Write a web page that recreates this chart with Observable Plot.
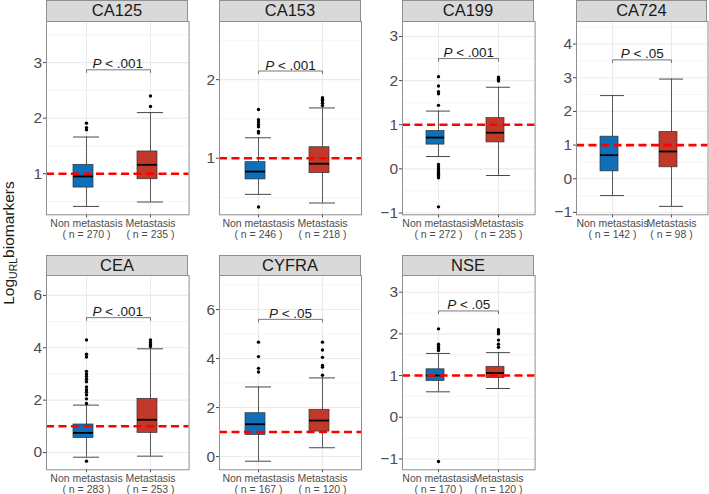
<!DOCTYPE html>
<html><head><meta charset="utf-8">
<script src="https://cdn.jsdelivr.net/npm/d3@7"></script>
<script src="https://cdn.jsdelivr.net/npm/@observablehq/plot@0.6"></script>
<style>
html,body{margin:0;padding:0;background:#fff;}
#chart{position:relative;width:709px;height:494px;overflow:hidden;font-family:"Liberation Sans",Arial,sans-serif;background:#fff;}
.panel{position:absolute;}
.panel svg{overflow:visible;background:transparent;}
.strip{position:absolute;box-sizing:border-box;background:#d9d9d9;border:1px solid #8f8f8f;display:flex;align-items:center;justify-content:center;font-size:16.5px;color:#1a1a1a;}
</style>
</head><body><div id="chart"></div>
<script>
// ---- data ----
const biomarkers = ["CA125","CA153","CA199","CA724","CEA","CYFRA","NSE"];
const groups = ["Non metastasis","Metastasis"];
const nNon = [270,246,272,142,283,167,170];
const nMet = [235,218,235,98,253,120,120];
const pLabels = ["P < .001","P < .001","P < .001","P < .05","P < .001","P < .05","P < .05"];
const bracketY = [2.87,2.11,2.50,3.53,5.15,5.6,2.55];
const refLine = 1;

const yMin = [0.26,0.28,-1.04,-1.07,-0.66,-0.54,-1.26];
const yMax = [3.74,2.74,3.34,4.67,6.76,7.39,3.40];
const yTicks = [[1,2,3],[1,2],[-1,0,1,2,3],[-1,0,1,2,3,4],[0,2,4,6],[0,2,4,6],[-1,0,1,2,3]];
const yMinor = [[0.5,1.5,2.5,3.5],[0.5,1.5,2.5],[-0.5,0.5,1.5,2.5],[-0.5,0.5,1.5,2.5,3.5,4.5],[1,3,5],[1,3,5,7],[-0.5,0.5,1.5,2.5]];

const nonLow = [0.41,0.54,0.28,-0.50,-0.18,-0.19,0.61];
const nonQ1  = [0.75,0.73,0.55,0.22,0.55,0.88,0.87];
const nonMed = [0.95,0.83,0.71,0.70,0.75,1.32,1.00];
const nonQ3  = [1.16,0.95,0.86,1.25,1.07,1.77,1.15];
const nonHigh= [1.66,1.26,1.31,2.47,1.81,2.84,1.53];
const metLow = [0.49,0.43,-0.15,-0.82,-0.14,0.36,0.69];
const metQ1  = [0.90,0.81,0.60,0.34,0.75,1.02,0.94];
const metMed = [1.16,0.93,0.82,0.81,1.25,1.47,1.06];
const metQ3  = [1.40,1.14,1.15,1.39,2.05,1.91,1.21];
const metHigh= [2.10,1.64,1.85,2.96,3.96,3.21,1.55];
const nonOutliers = [
  [1.79,1.83,1.91],
  [0.38,1.32,1.34,1.40,1.43,1.46,1.49,1.62],
  [1.44,1.70,1.75,1.88,2.09,0.10,0.05,0.0,-0.04,-0.08,-0.12,-0.16,-0.20,-0.86],
  [],
  [-0.33,1.87,2.05,2.2,2.3,2.4,2.5,2.7,2.8,2.9,3.0,3.1,3.65,3.75,4.3],
  [3.45,3.6,4.08,4.67],
  [1.6,1.65,1.7,1.75,2.12,-1.06]
];
const metOutliers = [
  [2.21,2.40],
  [1.67,1.70,1.73,1.75,1.77],
  [1.99,2.02,2.05,2.08],
  [],
  [4.05,4.12,4.2,4.3],
  [3.32,3.65,3.72,4.05,4.35,4.67],
  [1.68,1.75,1.85,2.0,2.05,2.1]
];
const groupColors = ["#0f6fb8","#c0392b"];

// ---- layout ----
const colLeft = [45.7,219,401.7,575.7];
const colWidth = [142.6,142,132.6,131.5];
const rowTop = [20.7,275];
const rowBottom = [214,469.3];
const stripTop = [0,255];
const mT = 2, mB = 30, mL = 40, mR = 2;
const font = '"Liberation Sans",Arial,sans-serif';
const fmt = d => (d < 0 ? "\u2212" + Math.abs(d) : String(d));

const root = document.getElementById("chart");

biomarkers.forEach((name, i) => {
  const c = i % 4, r = Math.floor(i / 4);
  const pw = colWidth[c], ph = rowBottom[r] - rowTop[r];
  const rows = [
    {g: groups[0], low: nonLow[i], q1: nonQ1[i], med: nonMed[i], q3: nonQ3[i], high: nonHigh[i]},
    {g: groups[1], low: metLow[i], q1: metQ1[i], med: metMed[i], q3: metQ3[i], high: metHigh[i]}
  ];
  const outs = [
    ...nonOutliers[i].map(v => ({g: groups[0], v})),
    ...metOutliers[i].map(v => ({g: groups[1], v}))
  ];
  const tick = (yMax[i] - yMin[i]) * 0.014;
  const bracket = [
    {g: groups[0], y: bracketY[i] - tick},
    {g: groups[0], y: bracketY[i]},
    {g: groups[1], y: bracketY[i]},
    {g: groups[1], y: bracketY[i] - tick}
  ];
  const counts = [nNon[i], nMet[i]];

  const chart = Plot.plot({
    width: pw + mL + mR,
    height: ph + mT + mB,
    marginTop: mT, marginBottom: mB, marginLeft: mL, marginRight: mR,
    style: {fontFamily: font, fontSize: "15px", background: "transparent", overflow: "visible"},
    x: {domain: groups, paddingInner: 0.6, paddingOuter: 0.4, axis: null},
    y: {domain: [yMin[i], yMax[i]], axis: null},
    color: {domain: groups, range: groupColors},
    marks: [
      Plot.ruleY(yMinor[i], {stroke: "#efefef", strokeWidth: 0.6}),
      Plot.ruleY(yTicks[i], {stroke: "#ebebeb", strokeWidth: 1.1}),
      Plot.ruleX(groups, {stroke: "#ebebeb", strokeWidth: 1.1}),
      // axis ticks and labels
      Plot.ruleY(yTicks[i], {stroke: "#333", strokeWidth: 0.9, insetLeft: -3, insetRight: pw}),
      Plot.text(yTicks[i], {y: d => d, text: fmt, frameAnchor: "left", textAnchor: "end", dx: -4.5, fontSize: 15.5, fill: "#4d4d4d"}),
      Plot.ruleX(groups, {stroke: "#333", strokeWidth: 0.9, insetTop: ph, insetBottom: -3}),
      Plot.text(groups, {x: d => d, text: (d, j) => `${d}\n( n = ${counts[j]} )`, frameAnchor: "bottom", lineAnchor: "top", dy: 4.5, fontSize: 10.5, lineHeight: 1.05, fill: "#4d4d4d"}),
      // boxes
      Plot.ruleX(rows, {x: "g", y1: "low", y2: "high", stroke: "#333", strokeWidth: 0.8}),
      Plot.tickY(rows, {x: "g", y: "low", stroke: "#333", strokeWidth: 0.9}),
      Plot.tickY(rows, {x: "g", y: "high", stroke: "#333", strokeWidth: 0.9}),
      Plot.barY(rows, {x: "g", y1: "q1", y2: "q3", fill: "g", stroke: "#333", strokeWidth: 0.7, insetRight: 6}),
      Plot.tickY(rows, {x: "g", y: "med", stroke: "#000", strokeWidth: 1.8, insetRight: 6}),
      Plot.dot(outs, {x: "g", y: "v", r: 1.7, fill: "#000"}),
      Plot.ruleY([refLine], {stroke: "#ff0000", strokeWidth: 2.6, strokeDasharray: "8,4.5"}),
      Plot.line(bracket, {x: "g", y: "y", stroke: "#555", strokeWidth: 0.8}),
      Plot.text([{y: bracketY[i], t: pLabels[i]}], {y: "y", text: "t", lineAnchor: "bottom", dy: -1.5, fontSize: 13.5, fill: "#1a1a1a"}),
      Plot.frame({stroke: "#8f8f8f"})
    ]
  });

  chart.querySelectorAll("text").forEach(el => {
    const s = el.textContent;
    if (s.startsWith("P <") && el.children.length === 0) {
      el.textContent = "";
      const a = document.createElementNS("http://www.w3.org/2000/svg", "tspan");
      a.setAttribute("font-style", "italic");
      a.textContent = "P";
      const b = document.createElementNS("http://www.w3.org/2000/svg", "tspan");
      b.textContent = s.slice(1);
      el.appendChild(a); el.appendChild(b);
    }
  });

  const div = document.createElement("div");
  div.className = "panel";
  div.style.left = (colLeft[c] - mL) + "px";
  div.style.top = (rowTop[r] - mT) + "px";
  div.style.width = (pw + mL + mR) + "px";
  div.appendChild(chart);
  root.appendChild(div);

  const strip = document.createElement("div");
  strip.className = "strip";
  strip.style.left = colLeft[c] + "px";
  strip.style.top = stripTop[r] + "px";
  strip.style.width = pw + "px";
  strip.style.height = (rowTop[r] - stripTop[r] + 1) + "px";
  strip.textContent = name;
  root.appendChild(strip);
});

// y-axis title
const ttl = d3.select(root).append("svg")
  .attr("width", 30).attr("height", 494)
  .style("position", "absolute").style("left", "0px").style("top", "0px");
const t = ttl.append("text")
  .attr("transform", "translate(14,243) rotate(-90)")
  .attr("text-anchor", "middle")
  .attr("font-family", font).attr("font-size", 15.5).attr("fill", "#1a1a1a");
t.append("tspan").text("Log");
t.append("tspan").attr("font-size", 10.5).attr("dy", 3).text("URL");
t.append("tspan").attr("dy", -3).text("biomarkers");
</script>
</body></html>
